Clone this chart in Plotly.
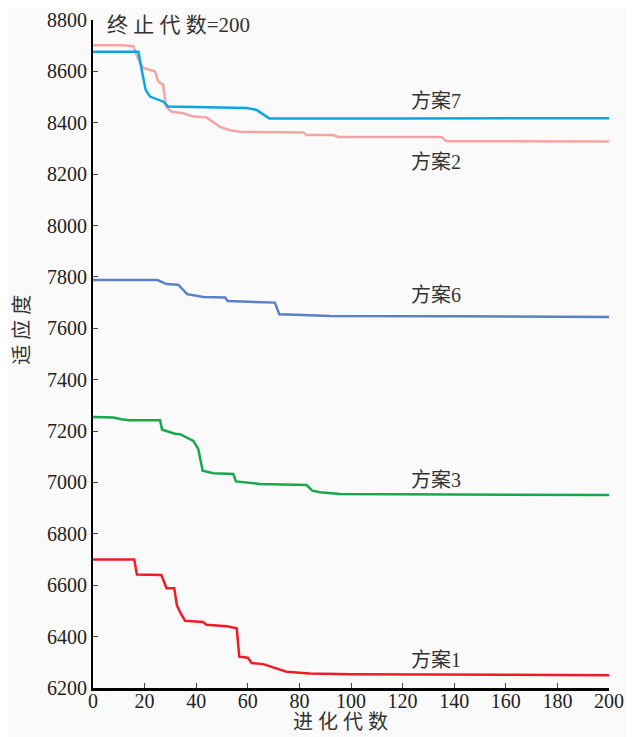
import plotly.graph_objects as go

# 方案1 (red)
x1 = [0, 16, 17, 26.5, 28.5, 31.5, 32.5, 34, 35.7, 42.6, 44, 51.8, 55.7, 56.7, 60, 61.5, 66, 71, 75, 84, 100, 160, 200]
y1 = [6700, 6700, 6642, 6640, 6588, 6588, 6522, 6490, 6462, 6457, 6446, 6440, 6432, 6322, 6318, 6297, 6293, 6275, 6263, 6256, 6254, 6252, 6250]
# 方案3 (green)
x3 = [0, 8, 11, 14, 26, 26.8, 31.8, 33.7, 38.9, 40.8, 42.5, 46.6, 54.4, 55.4, 64.7, 82.8, 85, 88, 95.7, 140, 200]
y3 = [7255, 7253, 7246, 7242, 7242, 7205, 7190, 7188, 7162, 7130, 7046, 7036, 7033, 7004, 6994, 6990, 6968, 6962, 6955, 6954, 6951]
# 方案6 (slate blue)
x6 = [0, 25, 28.5, 33, 36.5, 42.8, 51.2, 52.2, 70.5, 72.2, 84, 92, 140, 200]
y6 = [7788, 7788, 7772, 7770, 7733, 7722, 7720, 7706, 7700, 7655, 7651, 7648, 7647, 7644]
# 方案7 (cyan blue)
x7 = [0, 17.6, 18.6, 20.4, 22.1, 25.3, 27.3, 29.2, 46.6, 59.6, 63.4, 68.3, 120, 200]
y7 = [8676, 8676, 8620, 8528, 8502, 8489, 8482, 8463, 8460, 8457, 8450, 8417, 8417, 8418]
# 方案2 (pink)
x2 = [0, 11.7, 15.6, 17.6, 19.5, 24, 25.3, 27.2, 28.3, 30.5, 35, 38.9, 44, 46.6, 49.2, 53.1, 57, 81.5, 82.8, 93.1, 95, 135, 137, 200]
y2 = [8702, 8702, 8698, 8646, 8613, 8600, 8561, 8548, 8463, 8443, 8437, 8424, 8421, 8404, 8384, 8371, 8365, 8362, 8352, 8352, 8345, 8345, 8328, 8327]

series = [
    ("方案1", x1, y1, "#ee1d25"),
    ("方案3", x3, y3, "#14a94c"),
    ("方案6", x6, y6, "#5b7fc8"),
    ("方案2", x2, y2, "#f4a4a4"),
    ("方案7", x7, y7, "#0ba6e1"),
]

label_names = ["方案7", "方案2", "方案6", "方案3", "方案1"]
label_x = [133, 133, 133, 133, 133]
label_y = [8485, 8246, 7730, 7009, 6309]

x_ticks = list(range(0, 201, 20))
y_ticks = list(range(6200, 8801, 200))

FONT = "Liberation Serif, Times New Roman, serif"
CJK = "Liberation Serif, Times New Roman, Noto Sans CJK SC, serif"

fig = go.Figure()
for name, xs, ys, col in series:
    fig.add_trace(go.Scatter(x=xs, y=ys, mode="lines", name=name,
                             line=dict(color=col, width=2.5), showlegend=False))

for t, xx, yy in zip(label_names, label_x, label_y):
    fig.add_annotation(x=xx, y=yy, text=t, showarrow=False,
                       font=dict(family=CJK, size=20, color="#333"),
                       xanchor="center", yanchor="middle")

fig.add_annotation(x=4.5, y=8782, text="终 止 代 数=200", showarrow=False,
                   font=dict(family=CJK, size=21, color="#333"),
                   xanchor="left", yanchor="middle")
fig.add_annotation(xref="paper", yref="paper", x=-0.138, y=0.536, text="适 应 度",
                   textangle=-90, showarrow=False,
                   font=dict(family=CJK, size=20, color="#333"),
                   xanchor="center", yanchor="middle")
fig.add_annotation(xref="paper", yref="paper", x=0.479, y=-0.051, text="进 化 代 数",
                   showarrow=False, font=dict(family=CJK, size=20, color="#333"),
                   xanchor="center", yanchor="middle")

fig.update_layout(
    width=634, height=737,
    margin=dict(l=85, r=33, t=12, b=57),
    paper_bgcolor="#fafafa", plot_bgcolor="#fafafa",
    font=dict(family=CJK, size=20, color="#222"),
    xaxis=dict(range=[0, 200], tickvals=x_ticks, ticks="inside", ticklen=5,
               tickcolor="#444", showline=True, linecolor="black", linewidth=3,
               showgrid=False, zeroline=False, ticklabelstandoff=-7, automargin=False,
               tickfont=dict(size=20, family=FONT)),
    yaxis=dict(range=[6200, 8800], tickvals=y_ticks, ticks="inside", ticklen=5,
               tickcolor="#444", showline=True, linecolor="black", linewidth=2,
               showgrid=False, zeroline=False, automargin=False,
               tickfont=dict(size=20, family=FONT)),
)

fig.write_html("out.html")
